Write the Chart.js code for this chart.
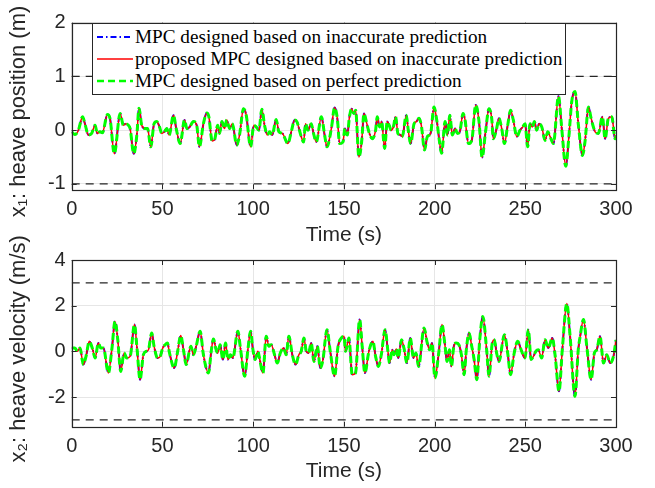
<!DOCTYPE html>
<html>
<head>
<meta charset="utf-8">
<script src="https://cdn.jsdelivr.net/npm/chart.js"></script>
<style>
  body { margin: 0; background: #fff; }
  #wrap { position: relative; width: 655px; height: 488px; }
  canvas { position: absolute; left: 0; }
  #legend { position: absolute; left: 92px; top: 23px; width: 472px; height: 70px;
            border: 1px solid #262626; background: #fff;
            font-family: "Liberation Serif", "Times New Roman", serif; font-size: 19.2px; color: #000; }
  #legend .row { position: absolute; left: 0; height: 22px; line-height: 22px; white-space: nowrap; }
  #legend svg { position: absolute; left: 4px; top: 0; }
  #legend span { position: absolute; left: 42px; top: 0; }
</style>
</head>
<body>
<div id="wrap">
  <canvas id="posChart" width="655" height="260" style="top:0"></canvas>
  <canvas id="velChart" width="655" height="288" style="top:200px"></canvas>
  <div id="legend">
    <div class="row" style="top:2px">
      <svg width="38" height="22"><line x1="0" y1="11" x2="36" y2="11" stroke="#0000ff" stroke-width="2" stroke-dasharray="6,3,1.5,3"/></svg>
      <span>MPC designed based on inaccurate prediction</span>
    </div>
    <div class="row" style="top:24px">
      <svg width="38" height="22"><line x1="0" y1="11" x2="36" y2="11" stroke="#ff0000" stroke-width="1.5"/></svg>
      <span>proposed MPC designed based on inaccurate prediction</span>
    </div>
    <div class="row" style="top:46px">
      <svg width="38" height="22"><line x1="0" y1="11" x2="36" y2="11" stroke="#00ff00" stroke-width="2.5" stroke-dasharray="7,4"/></svg>
      <span>MPC designed based on perfect prediction</span>
    </div>
  </div>
</div>
<script>
// time axis ticks
var xTicks = [0, 50, 100, 150, 200, 250, 300];

// heave position x1 (m), read at the turning points of the curves
var posTime = [0, 1.8, 3.7, 6.0, 7.3, 9.2, 11.0, 12.9, 14.1, 15.6, 16.9, 19.7, 21.1, 23.5, 26.7, 28.5, 29.8, 31.3, 32.2, 34.2,
  35.9, 37.1, 38.6, 40.5, 41.8, 43.6, 45.4, 46.9, 48.4, 49.7, 51.1, 52.4, 53.7, 56.1, 57.6, 59.8, 62.2, 63.5, 65.0, 67.1,
  68.9, 70.4, 72.6, 74.5, 75.6, 77.4, 78.7, 80.5, 81.5, 82.8, 84.2, 85.5, 87.0, 88.5, 91.0, 92.5, 94.7, 96.2, 98.6, 100.4,
  101.7, 103.2, 104.8, 106.3, 107.8, 109.1, 110.5, 112.7, 114.2, 116.1, 119.2, 121.0, 122.9, 124.1, 125.3, 126.5, 127.8, 128.9, 130.2, 132.0,
  133.3, 134.8, 137.6, 139.4, 140.7, 143.1, 144.9, 146.4, 147.7, 149.5, 150.6, 151.9, 153.1, 154.3, 155.5, 156.5, 158.3, 159.8, 161.1, 162.4,
  163.8, 165.7, 167.5, 168.4, 169.7, 170.8, 172.5, 173.9, 175.0, 176.1, 177.3, 178.5, 179.8, 181.3, 182.2, 184.4, 185.5, 186.8, 188.7, 190.0,
  191.4, 192.7, 194.5, 196.0, 197.3, 198.0, 199.7, 201.2, 202.5, 203.9, 205.8, 207.1, 208.4, 209.8, 211.3, 212.6, 213.9, 215.7, 216.8, 218.7,
  220.5, 222.7, 224.5, 226.2, 228.1, 230.0, 231.5, 232.4, 234.2, 235.5, 237.0, 238.5, 240.3, 241.9, 243.4, 245.3, 247.1, 248.6, 249.9, 251.3,
  252.6, 253.9, 255.0, 256.3, 257.6, 259.1, 260.9, 262.4, 263.7, 265.5, 268.3, 270.1, 272.3, 274.1, 275.6, 277.4, 279.3, 281.5, 283.0, 284.8,
  286.3, 288.5, 290.3, 292.5, 294.0, 295.8, 297.7, 299.5, 300];
var posValue = [-0.03, -0.08, 0, 0.25, 0.12, -0.09, -0.06, 0.09, -0.06, -0.03, -0.05, 0.29, 0.22, -0.44, 0.31, 0.09, 0.12, 0.09, 0.03, -0.44,
  -0.09, 0.41, 0.09, 0.03, 0.03, -0.31, 0.12, 0.16, 0.06, -0.06, -0.03, 0.03, -0.09, 0.28, 0.03, -0.25, 0.19, 0.03, 0.06, 0.16,
  0.09, -0.31, 0.12, 0.32, 0.25, -0.2, -0.18, 0.09, -0.06, 0.16, 0.03, 0.19, 0.03, 0.12, -0.28, -0.09, 0.40, 0.28, -0.31, 0.09,
  0.06, 0, 0.39, 0.09, -0.09, -0.03, -0.09, 0.2, -0.03, -0.06, -0.25, -0.03, 0.19, 0.16, 0.03, -0.12, -0.22, 0.12, 0, 0.12,
  -0.06, -0.22, 0.25, -0.09, -0.31, 0.03, 0.42, 0.22, -0.25, -0.22, 0.03, -0.09, 0.25, 0.40, 0.31, 0.37, -0.50, -0.22, 0.31, 0.16,
  -0.03, -0.16, 0, 0.25, 0.06, 0.16, -0.34, 0.16, 0.09, 0, 0.06, 0.25, -0.06, -0.09, -0.12, 0.28, 0, -0.25, 0.12, 0.16,
  0.22, 0.09, -0.37, -0.12, -0.09, -0.03, 0.43, 0.19, -0.16, -0.43, 0.16, -0.09, 0.28, -0.09, 0.03, -0.06, -0.03, 0.31, 0.19, -0.25,
  -0.19, 0.47, 0.16, -0.51, -0.03, 0.40, 0.22, -0.16, 0.03, 0.22, 0.03, -0.25, 0.09, 0.37, 0.19, -0.12, 0, 0.06, 0.12, -0.31,
  0.12, 0.06, 0.16, 0, 0.12, 0.06, -0.19, -0.03, -0.12, -0.25, 0.63, 0.03, -0.67, -0.09, 0.53, 0.72, 0.09, -0.47, -0.19, 0.43,
  0.22, -0.03, -0.06, 0.25, -0.16, 0.22, 0.25, -0.16, -0.1];

// heave velocity x2 (m/s)
var velTime = [0, 1.8, 3.1, 4.6, 6.4, 7.9, 9.7, 11.6, 12.9, 14.7, 16.0, 17.5, 20.2, 22.1, 23.9, 25.4, 27.0, 28.9, 30.3, 32.2,
  34.6, 35.9, 37.7, 39.5, 41.0, 42.3, 44.1, 45.4, 47.3, 48.8, 50.2, 51.5, 52.8, 53.9, 56.5, 58.4, 60.1, 61.6, 63.1, 65.0,
  65.7, 67.1, 68.6, 70.8, 72.6, 75.4, 76.9, 78.1, 79.6, 80.5, 81.8, 83.3, 84.8, 86.1, 87.4, 88.8, 91.6, 93.1, 95.3, 97.1,
  98.6, 99.9, 101.1, 102.6, 103.5, 105.4, 107.2, 108.7, 110.0, 111.8, 113.3, 115.0, 116.8, 118.2, 119.7, 121.6, 123.4, 125.2, 126.5, 128.0,
  129.3, 130.6, 132.0, 133.5, 135.4, 137.0, 138.5, 140.7, 142.5, 144.9, 146.8, 148.6, 150.1, 150.9, 152.8, 154.6, 156.4, 158.7, 160.1, 161.6,
  163.8, 166.0, 167.5, 169.0, 170.8, 172.7, 174.3, 175.2, 176.7, 177.6, 178.9, 180.0, 181.8, 183.1, 184.8, 186.6, 188.4, 189.7, 191.2, 194.2,
  196.0, 197.3, 198.6, 200.2, 202.3, 204.1, 205.6, 206.9, 208.2, 209.3, 210.6, 211.9, 213.4, 214.8, 216.3, 217.5, 219.0, 220.5, 221.8, 223.3,
  224.9, 226.6, 228.7, 230.0, 231.8, 232.9, 234.2, 235.5, 238.5, 240.3, 241.9, 243.9, 245.8, 247.7, 249.8, 251.7, 253.2, 254.5, 255.8, 257.2,
  259.0, 260.9, 262.7, 264.9, 266.4, 268.6, 270.4, 272.9, 274.7, 277.4, 279.2, 280.1, 282.1, 283.9, 286.3, 288.1, 289.4, 291.2, 293.1, 294.9,
  296.8, 298.6, 300];
var velValue = [0.15, 0.15, 0, 0.15, -0.58, -0.22, 0.44, 0.07, -0.29, 0.36, 0.15, 0.15, -0.95, 0.07, 1.31, 0.51, -0.88, -0.07, -0.29, -0.22,
  1.17, 0.22, -1.24, -0.15, 0, 0.07, 0.80, 0.22, -0.29, -0.22, 0.15, 0.29, 0.36, -0.07, -0.73, 0, 0.69, 0.07, -0.58, 0.07,
  0.22, -0.15, 0.22, 0.88, -0.15, -0.95, 0, 0.54, 0.07, -0.07, 0.29, -0.36, 0.36, -0.36, -0.15, -0.29, 0.88, 0.07, -1.09, 0.07,
  0.88, 0.07, -0.36, 0, -0.29, -0.95, 0.66, 0.22, 0.29, -0.15, -0.51, -0.07, 0.15, -0.15, 0.66, -0.15, -0.58, -0.15, 0, 0.58,
  0, -0.07, 0.36, -0.44, 0.22, -0.73, -0.36, 0.95, 0, -1.09, 0.22, 0.58, 0.66, 0, 0.58, -1.02, -0.95, 1.39, 0.22, -0.95,
  0, 0.44, -0.22, -0.66, -0.07, 0.95, 0, -0.51, 0.07, -0.15, 0.1, -0.29, 0.51, 0.15, -0.51, 0.58, -0.29, -0.07, -0.66, 1.02,
  0.36, 0.07, 0.36, -1.17, -0.07, 1.17, 0.36, -0.44, 0.07, -0.66, 0.22, 0.36, 0.29, -0.15, -1.02, 0.07, 0.80, 0.22, -0.36, -1.24,
  0.51, 1.53, 0.07, -1.09, 0.36, 0.51, -0.07, -0.44, 0.73, -0.07, -1.02, -0.07, 0.44, 0.07, -0.29, 0.95, -0.36, -0.22, 0, 0.07,
  -0.29, 0.51, 0.15, 0.58, -0.15, -1.75, 0.07, 2.09, 0.66, -1.97, 0.07, 0.58, 1.39, 0.22, -1.24, -0.07, 0.07, 0.66, -0.51, -0.15,
  -0.51, -0.22, 0.5];

// constraint limits and y ticks
var posLimits = [1, -1];
var velLimits = [3, -3];
var posTicks = [2, 1, 0, -1];
var velTicks = [4, 2, 0, -2];

function pairs(ts, vs) {
  return ts.map(function(t, i) { return {x: t, y: vs[i]}; });
}

function limitLine(v) {
  return {
    data: [{x: 0, y: v}, {x: 300, y: v}],
    borderColor: '#262626', borderWidth: 1.2, borderDash: [8, 6],
    pointRadius: 0, tension: 0, order: 5
  };
}

// the three controllers give (almost) the same curve; green dashed drawn on top
function seriesSets(ts, vs) {
  var d = pairs(ts, vs);
  return [
    {data: d, borderColor: '#00ff00', borderWidth: 3, borderDash: [7, 4], pointRadius: 0,
     tension: 0.4, cubicInterpolationMode: 'monotone', order: 1},
    {data: d, borderColor: '#ff0000', borderWidth: 1.5, pointRadius: 0,
     tension: 0.4, cubicInterpolationMode: 'monotone', order: 2},
    {data: d, borderColor: '#0000ff', borderWidth: 2, borderDash: [6, 3, 1.5, 3], pointRadius: 0,
     tension: 0.4, cubicInterpolationMode: 'monotone', order: 3}
  ];
}

// axes box with inward tick marks, like the MATLAB look
var boxPlugin = {
  id: 'box',
  afterDraw: function(chart) {
    var ctx = chart.ctx, a = chart.chartArea, sx = chart.scales.x, sy = chart.scales.y;
    ctx.save();
    ctx.strokeStyle = '#262626';
    ctx.lineWidth = 1;
    ctx.beginPath();
    sx.ticks.forEach(function(t) {
      var px = Math.round(sx.getPixelForValue(t.value)) + 0.5;
      ctx.moveTo(px, a.bottom); ctx.lineTo(px, a.bottom - 5);
      ctx.moveTo(px, a.top); ctx.lineTo(px, a.top + 5);
    });
    sy.ticks.forEach(function(t) {
      var py = Math.round(sy.getPixelForValue(t.value)) + 0.5;
      ctx.moveTo(a.left, py); ctx.lineTo(a.left + 5, py);
      ctx.moveTo(a.right, py); ctx.lineTo(a.right - 5, py);
    });
    ctx.stroke();
    ctx.lineWidth = 1.2;
    ctx.strokeRect(Math.round(a.left) + 0.5, Math.round(a.top) + 0.5,
                   Math.round(a.right - a.left), Math.round(a.bottom - a.top));
    ctx.restore();
  }
};

function makeChart(id, ts, vs, limits, yTicks, yMin, yMax, yTitle, padTop, xHeight, padBottom) {
  var sets = seriesSets(ts, vs).concat(limits.map(limitLine));
  return new Chart(document.getElementById(id), {
    type: 'line',
    data: {datasets: sets},
    plugins: [boxPlugin],
    options: {
      responsive: false,
      animation: false,
      layout: {padding: {top: padTop, right: 39, left: 0, bottom: padBottom}},
      plugins: {legend: {display: false}, tooltip: {enabled: false}},
      scales: {
        x: {
          type: 'linear', min: 0, max: 300,
          afterBuildTicks: function(s) { s.ticks = xTicks.map(function(v) { return {value: v}; }); },
          afterFit: function(s) { s.height = xHeight; },
          grid: {color: '#e6e6e6', drawTicks: false},
          border: {display: false},
          ticks: {padding: 8, color: '#262626', font: {family: 'Liberation Sans, Arial', size: 20}},
          title: {display: true, text: 'Time (s)', color: '#262626', padding: {top: 0, bottom: 0},
                  font: {family: 'Liberation Sans, Arial', size: 21}}
        },
        y: {
          min: yMin, max: yMax,
          afterBuildTicks: function(s) { s.ticks = yTicks.map(function(v) { return {value: v}; }); },
          afterFit: function(s) { s.width = 71.7; },
          grid: {color: '#e6e6e6', drawTicks: false},
          border: {display: false},
          ticks: {padding: 6, color: '#262626', font: {family: 'Liberation Sans, Arial', size: 20}},
          title: {display: true, text: yTitle, color: '#262626', padding: {top: 6, bottom: 0},
                  font: {family: 'Liberation Sans, Arial', size: 22}}
        }
      }
    }
  });
}

// a trailing en space nudges the rotated titles down a little, as in the reference
makeChart('posChart', posTime, posValue, posLimits, posTicks, -1.1, 2,
  'x\u2081: heave position (m)\u2002', 22.7, 58.3, 12.4);
makeChart('velChart', velTime, velValue, velLimits, velTicks, -3.3, 4,
  'x\u2082: heave velocity (m/s)\u2002', 60, 56.9, 4.4);
</script>
</body>
</html>
